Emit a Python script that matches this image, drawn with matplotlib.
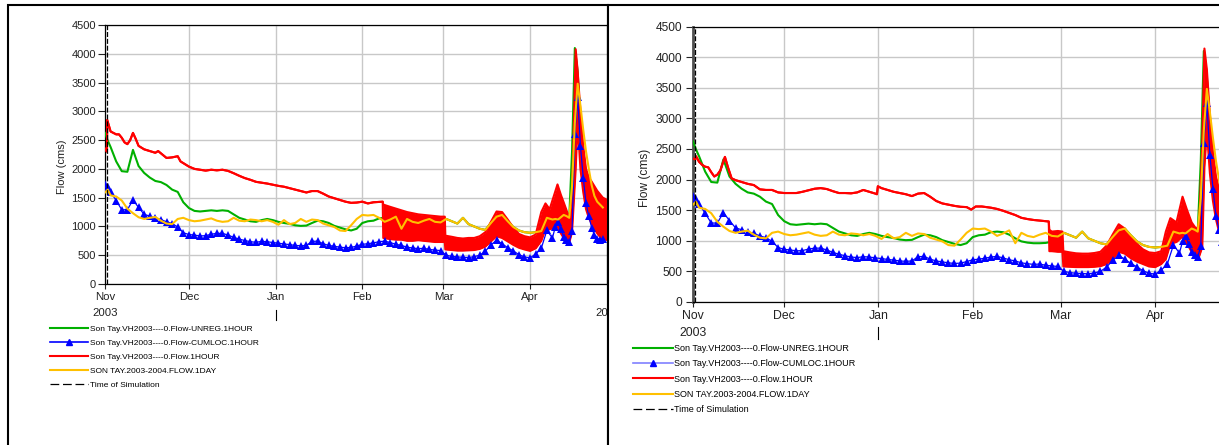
import matplotlib
matplotlib.use("Agg")
import matplotlib.pyplot as plt
import matplotlib.dates as mdates
import matplotlib.transforms as mtransforms
from matplotlib.lines import Line2D
from matplotlib.patches import Rectangle
import pandas as pd

plt.rcParams["font.family"] = ["Liberation Sans", "DejaVu Sans"]

START = pd.Timestamp("2003-11-01")
SIM_TIME = 0.7  # "Time of Simulation", days after START

# common day grid (days after 1 Nov 2003) for the shared series
DAYS = [0, 1, 2, 4, 6, 8, 10, 12, 14, 16, 18, 20, 22, 24, 26, 28, 30, 32, 34, 36,
        38, 40, 42, 44, 46, 48, 50, 52, 54, 56, 58, 60, 62, 64, 66, 68, 70, 72, 74, 76,
        78, 80, 82, 84, 86, 88, 90, 92, 94, 96, 98, 100, 102, 104, 106, 108, 110, 112, 114, 116,
        118, 120, 122, 124, 126, 128, 130, 132, 134, 136, 138, 140, 142, 144, 146, 148, 150, 152, 154, 156,
        158, 160, 161, 162, 163, 164, 165, 166, 167, 168, 169, 170, 171, 172, 173, 174, 175, 176, 177, 178]

UNREG = [2625, 2490, 2380, 2130, 1960, 1950, 2330, 2050, 1930, 1850, 1790, 1770, 1720, 1640, 1600, 1420, 1320, 1270, 1260, 1270,
         1280, 1270, 1280, 1270, 1210, 1150, 1120, 1090, 1080, 1110, 1130, 1110, 1080, 1060, 1045, 1020, 1010, 1015, 1060, 1100,
         1090, 1060, 1010, 980, 950, 930, 960, 1060, 1090, 1100, 1140, 1150, 1140, 1100, 1040, 990, 970, 960, 960, 965,
         985, 1070, 1130, 1090, 1050, 1150, 1040, 1000, 960, 940, 1060, 1170, 1200, 1090, 990, 930, 900, 890, 900, 920,
         1150, 1120, 1130, 1120, 1160, 1200, 1180, 1150, 2300, 4100, 3700, 2800, 2200, 1850, 1620, 1480, 1400, 1340, 1300, 1270]

CUMLOC = [1730, 1680, 1600, 1450, 1290, 1290, 1460, 1330, 1210, 1180, 1140, 1120, 1080, 1050, 990, 890, 860, 850, 835, 840,
          865, 880, 880, 850, 810, 780, 755, 735, 725, 740, 735, 720, 710, 695, 685, 670, 665, 670, 740, 745,
          700, 670, 655, 640, 630, 635, 660, 690, 700, 715, 735, 745, 720, 690, 670, 640, 625, 615, 620, 600,
          590, 580, 500, 480, 470, 465, 460, 475, 500, 570, 680, 760, 700, 630, 575, 510, 470, 455, 520, 620,
          930, 800, 990, 1070, 950, 820, 760, 730, 920, 2600, 3250, 2400, 1850, 1400, 1180, 980, 850, 790, 770, 790]

OBS_DAY = [1590, 1640, 1540, 1520, 1450, 1310, 1230, 1160, 1130, 1150, 1165, 1100, 1050, 1040, 1130, 1150, 1110, 1090, 1100, 1120,
           1140, 1100, 1080, 1090, 1150, 1100, 1090, 1120, 1110, 1090, 1110, 1080, 1030, 1110, 1040, 1060, 1130, 1080, 1120, 1110,
           1050, 1020, 990, 930, 920, 1020, 1130, 1200, 1190, 1200, 1150, 1080, 1120, 1170, 960, 1130, 1080, 1060, 1100, 1130,
           1080, 1070, 1130, 1090, 1050, 1150, 1040, 1000, 960, 940, 1060, 1170, 1200, 1090, 990, 930, 900, 890, 900, 920,
           1150, 1120, 1130, 1120, 1160, 1200, 1180, 1150, 1700, 2800, 3480, 3100, 2680, 2300, 2000, 1720, 1530, 1430, 1380, 1330]

# regulated hourly flow: outer envelope (hi / lo) of the daily oscillation
RED_L_DAY = [0, 0.7, 0.8, 2, 3, 4, 5, 6, 7, 8, 9, 10, 11, 12, 14, 16, 18, 19, 22, 24,
             26, 27, 28, 30, 32, 34, 36, 38, 40, 42, 44, 46, 48, 50, 52, 54, 56, 58, 60, 62,
             64, 66, 68, 70, 72, 74, 76, 78, 80, 82, 84, 86, 88, 90, 92, 94, 96, 99.3, 99.5, 102,
             104, 106, 108, 110, 112, 114, 116, 118, 120, 121.5, 121.7, 124, 126, 128, 130, 132, 134, 136, 138, 140,
             142, 144, 146, 148, 150, 152, 154, 156, 157.5, 159, 161.8, 163, 164, 166, 167, 168.3, 169, 170, 171, 172,
             173, 174, 175, 176, 177, 178, 180]
RED_L_HI = [2350, 2300, 2850, 2650, 2625, 2600, 2600, 2540, 2460, 2430, 2500, 2625, 2520, 2400, 2340, 2310, 2280, 2310, 2190, 2200,
            2220, 2130, 2100, 2040, 2000, 1985, 1970, 1985, 1975, 1985, 1965, 1925, 1880, 1840, 1810, 1775, 1760, 1745, 1725, 1705,
            1690, 1665, 1640, 1615, 1590, 1615, 1615, 1570, 1520, 1490, 1460, 1430, 1410, 1415, 1430, 1400, 1420, 1430, 1380, 1340,
            1310, 1280, 1250, 1230, 1210, 1200, 1190, 1180, 1170, 1170, 840, 820, 800, 790, 800, 800, 830, 900, 1080, 1260,
            1250, 1120, 980, 870, 830, 810, 860, 1250, 1400, 1300, 1730, 1550, 1420, 1150, 1500, 4080, 3700, 3000, 2400, 2000,
            1850, 1780, 1700, 1620, 1560, 1500, 1450]
RED_L_LO = [2350, 2300, 2850, 2650, 2625, 2600, 2600, 2540, 2460, 2430, 2500, 2625, 2520, 2400, 2340, 2310, 2280, 2310, 2190, 2200,
            2220, 2130, 2100, 2040, 2000, 1985, 1970, 1985, 1975, 1985, 1965, 1925, 1880, 1840, 1810, 1775, 1760, 1745, 1725, 1705,
            1690, 1665, 1640, 1615, 1590, 1615, 1615, 1570, 1520, 1490, 1460, 1430, 1410, 1415, 1430, 1400, 1420, 1430, 800, 780,
            770, 770, 750, 750, 760, 750, 740, 730, 730, 730, 600, 590, 580, 580, 585, 590, 610, 650, 740, 830,
            800, 740, 680, 630, 600, 575, 620, 750, 950, 950, 1000, 880, 800, 720, 900, 2000, 2800, 2000, 1600, 1300,
            1150, 1050, 960, 880, 820, 780, 760]

RED_R_DAY = [0, 0.7, 1, 2, 3, 4, 5, 6, 7, 8, 9, 10.5, 11.5, 12.7, 14, 16, 18, 20, 22, 24,
             26, 28, 30, 32, 34, 36, 38, 40, 42, 44, 46, 48, 50, 52, 54, 56, 58, 60, 60.5, 60.8,
             62, 64, 66, 68, 70, 72, 74, 76, 78, 80, 82, 84, 86, 88, 90, 91.5, 93, 95, 98, 100,
             102, 104, 106, 108, 110, 112, 114, 116, 117, 117.2, 118, 120, 121.5, 121.8, 124, 126, 128, 130, 132, 134,
             136, 138, 140, 142, 144, 146, 148, 150, 152, 154, 155.5, 157, 159, 161, 162.5, 164, 165.7, 166.5, 167.5, 168.2,
             169, 170, 171, 172, 173, 174, 176, 178]
RED_R_HI = [2340, 2330, 2380, 2290, 2240, 2210, 2200, 2120, 2050, 2080, 2150, 2370, 2200, 2020, 1990, 1960, 1930, 1910, 1840, 1830,
            1830, 1790, 1780, 1780, 1780, 1800, 1825, 1850, 1860, 1845, 1810, 1780, 1780, 1775, 1790, 1830, 1800, 1770, 1760, 1890,
            1860, 1830, 1800, 1780, 1760, 1730, 1770, 1780, 1720, 1650, 1610, 1590, 1570, 1555, 1550, 1510, 1560, 1560, 1540, 1520,
            1490, 1455, 1420, 1375, 1355, 1340, 1330, 1320, 1315, 1180, 1150, 1160, 1150, 830, 810, 795, 790, 790, 800, 820,
            920, 1100, 1270, 1200, 1070, 950, 860, 810, 800, 830, 1150, 1370, 1300, 1720, 1500, 1300, 1180, 1300, 2600, 4140,
            3800, 3050, 2450, 2050, 1850, 1750, 1600, 1500]
RED_R_LO = [2340, 2330, 2380, 2290, 2240, 2210, 2200, 2120, 2050, 2080, 2150, 2370, 2200, 2020, 1990, 1960, 1930, 1910, 1840, 1830,
            1830, 1790, 1780, 1780, 1780, 1800, 1825, 1850, 1860, 1845, 1810, 1780, 1780, 1775, 1790, 1830, 1800, 1770, 1760, 1890,
            1860, 1830, 1800, 1780, 1760, 1730, 1770, 1780, 1720, 1650, 1610, 1590, 1570, 1555, 1550, 1510, 1560, 1560, 1540, 1520,
            1490, 1455, 1420, 1375, 1355, 1340, 1330, 1320, 1315, 830, 830, 820, 820, 580, 575, 570, 570, 570, 575, 585,
            620, 700, 820, 790, 715, 660, 620, 580, 570, 620, 700, 950, 980, 1070, 950, 820, 690, 750, 900, 2200,
            2800, 2100, 1650, 1350, 1150, 1050, 900, 800]

SERIES_NAMES = ["Son Tay.VH2003----0.Flow-UNREG.1HOUR",
                "Son Tay.VH2003----0.Flow-CUMLOC.1HOUR",
                "Son Tay.VH2003----0.Flow.1HOUR",
                "SON TAY.2003-2004.FLOW.1DAY",
                "Time of Simulation"]

C_GREEN = "#00b000"
C_BLUE = "#0000ff"
C_RED = "#ff0000"
C_YELLOW = "#ffc000"
C_GRID = "#c8c8c8"
C_TEXT = "#222222"

W, H = 1219, 445


def to_dates(days):
    return START + pd.to_timedelta(days, unit="D")


def draw_panel(ax, red_day, red_hi, red_lo, opt):
    x = to_dates(DAYS)
    ax.plot(x, UNREG, color=C_GREEN, lw=1.5, zorder=3)
    xr = to_dates(red_day)
    ax.fill_between(xr, red_lo, red_hi, color=C_RED, lw=0, zorder=4)
    ax.plot(xr, red_hi, color=C_RED, lw=1.5, zorder=4)
    ax.plot(xr, red_lo, color=C_RED, lw=1.5, zorder=4)
    ax.plot(x, CUMLOC, color=C_BLUE, lw=0.9, marker="^", ms=5.5, mec=C_BLUE, mfc=C_BLUE,
            mew=0, zorder=5)
    ax.plot(x, OBS_DAY, color=C_YELLOW, lw=1.5, zorder=6)
    ax.axvline(to_dates([SIM_TIME])[0], color="black", lw=0.9, ls=(0, (4, 1.5)), zorder=7)

    ax.set_ylim(0, 4500)
    ax.set_yticks(range(0, 4501, 500))
    ax.xaxis.set_major_locator(mdates.MonthLocator())
    ax.xaxis.set_major_formatter(mdates.DateFormatter("%b"))
    ax.grid(True, color=C_GRID, lw=1)
    ax.set_axisbelow(True)
    ax.tick_params(axis="y", length=5, pad=opt["ypad"], labelsize=opt["yfs"], colors=C_TEXT)
    ax.tick_params(axis="x", length=3.8, pad=2, labelsize=opt["xfs"], colors=C_TEXT)
    for s in ax.spines.values():
        s.set_linewidth(0.9)
    ax.spines["left"].set_color(opt["spine"][0])
    ax.spines["left"].set_linewidth(opt["spine"][1])

    # second row of the date axis: year label and year boundary mark
    trans = mtransforms.blended_transform_factory(ax.transData, ax.transAxes)
    nov = mdates.date2num(START)
    jan = mdates.date2num(pd.Timestamp("2004-01-01"))
    ax.text(nov, opt["row2"], "2003", transform=trans, ha="center", va="center",
            fontsize=opt["xfs"], color=C_TEXT, clip_on=False)
    ax.plot([jan, jan], opt["yeartick"], transform=trans, color="black", lw=0.8, clip_on=False)

    fig = ax.figure
    fig.text(opt["ylab"][0] / W, 1 - opt["ylab"][1] / H, "Flow (cms)", rotation=90,
             ha="center", va="center", fontsize=opt["labfs"], color=C_TEXT)

    handles = [
        Line2D([], [], color=C_GREEN, lw=1.5),
        Line2D([], [], color=opt["blue_leg"], lw=1.2, marker="^", ms=5, mfc=C_BLUE, mec=C_BLUE),
        Line2D([], [], color=C_RED, lw=1.5),
        Line2D([], [], color=C_YELLOW, lw=1.5),
        Line2D([], [], color="black", lw=0.9, ls=(0, (7, 3))),
    ]
    ax.legend(handles, SERIES_NAMES, loc="upper left",
              bbox_to_anchor=(opt["leg"][0] / W, 1 - opt["leg"][1] / H),
              bbox_transform=fig.transFigure, frameon=False, fontsize=opt["legfs"],
              handlelength=opt["hlen"], handletextpad=0.15, labelspacing=opt["lspace"],
              borderpad=0, borderaxespad=0, numpoints=1)


fig = plt.figure(figsize=(W / 100, H / 100), dpi=100)

# panel frames
fig.add_artist(Rectangle((8 / W, -0.1), 600 / W, 1.1 - 5 / H, transform=fig.transFigure,
                         facecolor="white", edgecolor="black", lw=1.5, zorder=0))
fig.add_artist(Rectangle((608 / W, -0.1), 0.6, 1.1 - 5 / H, transform=fig.transFigure,
                         facecolor="white", edgecolor="black", lw=1.5, zorder=2))

# left panel: x 105..607 px, y 25..284 px
ax1 = fig.add_axes([105 / W, 1 - 284 / H, 502 / W, 259 / H], zorder=1)
draw_panel(ax1, RED_L_DAY, RED_L_HI, RED_L_LO,
           dict(leg=(50, 325), legfs=6.0, hlen=4.6, lspace=0.75, blue_leg=C_BLUE,
                ylab=(62, 167), labfs=8, yeartick=[-0.10, -0.139], row2=-0.112,
                ypad=1.5, yfs=8, xfs=8.2, spine=("black", 0.9)))
ax1.set_xlim(to_dates([0])[0], to_dates([179.5])[0])
ax1.text(mdates.date2num(to_dates([175.3])[0]), -0.112, "2004",
         transform=mtransforms.blended_transform_factory(ax1.transData, ax1.transAxes),
         ha="left", va="center", fontsize=8.2, color=C_TEXT, clip_on=False)

# right panel: x 693..(beyond edge) px, y 26.5..302 px
ax2 = fig.add_axes([693 / W, 1 - 302 / H, 547 / W, 275.5 / H], zorder=3)
draw_panel(ax2, RED_R_DAY, RED_R_HI, RED_R_LO,
           dict(leg=(633, 344), legfs=6.5, hlen=4.4, lspace=0.7, blue_leg="#8080ff",
                ylab=(645, 178), labfs=8.6, yeartick=[-0.091, -0.134], row2=-0.111,
                ypad=3, yfs=8.6, xfs=8.8, spine=("#505050", 2.0)))
ax2.set_xlim(to_dates([0])[0], to_dates([179.9])[0])

fig.savefig("out.png", dpi=100)
